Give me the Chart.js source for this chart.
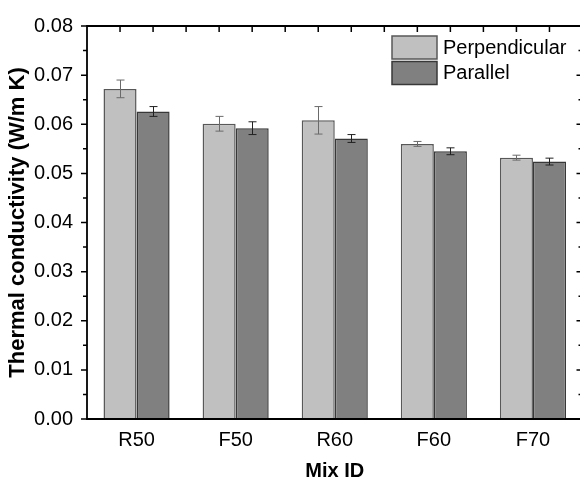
<!DOCTYPE html>
<html>
<head>
<meta charset="utf-8">
<script src="https://cdn.jsdelivr.net/npm/chart.js@4/dist/chart.umd.min.js"></script>
<style>
  html, body { margin: 0; padding: 0; background: #fff; overflow: hidden; }
  #wrap { width: 580px; height: 483px; overflow: hidden; }
</style>
</head>
<body>
<div id="wrap"><canvas id="chart" width="600" height="483"></canvas></div>
<script>
const categories = ['R50', 'F50', 'R60', 'F60', 'F70'];
const perpendicular = [0.0672, 0.0601, 0.0608, 0.0560, 0.0532];
const perpendicularErr = [0.0018, 0.0015, 0.0028, 0.0005, 0.0005];
const parallel = [0.0626, 0.0592, 0.0571, 0.0545, 0.0524];
const parallelErr = [0.0010, 0.0013, 0.0008, 0.0007, 0.0007];
const yTicks = [0, 0.01, 0.02, 0.03, 0.04, 0.05, 0.06, 0.07, 0.08];

const FONT = "'Liberation Sans', Arial, sans-serif";

// error bars on top of each bar
const errorBars = {
    id: 'errorBars',
    afterDatasetsDraw(chart) {
        const ctx = chart.ctx;
        const y = chart.scales.y;
        chart.data.datasets.forEach((ds, i) => {
            const meta = chart.getDatasetMeta(i);
            ctx.save();
            ctx.strokeStyle = ds.errColor;
            ctx.lineWidth = 1;
            meta.data.forEach((bar, j) => {
                const v = ds.data[j], e = ds.errors[j];
                const top = y.getPixelForValue(v + e);
                const bot = y.getPixelForValue(v - e);
                const x = Math.round(bar.x) + 0.5;
                ctx.beginPath();
                ctx.moveTo(x, top); ctx.lineTo(x, bot);
                ctx.moveTo(x - 4, top); ctx.lineTo(x + 4, top);
                ctx.moveTo(x - 4, bot); ctx.lineTo(x + 4, bot);
                ctx.stroke();
            });
            ctx.restore();
        });
    }
};

// box frame with origin-style ticks
const frame = {
    id: 'frame',
    afterDraw(chart) {
        const ctx = chart.ctx;
        const { left, right, top, bottom } = chart.chartArea;
        const y = chart.scales.y;
        ctx.save();
        ctx.strokeStyle = '#000';
        ctx.lineWidth = 1.8;
        ctx.beginPath();
        ctx.rect(left, top, right - left, bottom - top);
        ctx.stroke();
        ctx.lineWidth = 1.5;
        ctx.beginPath();
        for (let k = 0; k < yTicks.length * 2 - 1; k++) {
            const v = k * 0.005;
            const py = y.getPixelForValue(v);
            const len = k % 2 === 0 ? 6 : 4;
            ctx.moveTo(left - len, py); ctx.lineTo(left, py);
            ctx.moveTo(right, py); ctx.lineTo(right - len, py);
        }
        const step = (right - left) / (categories.length * 3);
        for (let k = 1; k < categories.length * 3; k++) {
            const px = left + k * step;
            ctx.moveTo(px, top); ctx.lineTo(px, top + 6);
        }
        ctx.stroke();
        ctx.restore();
    }
};

// legend inside the plot, upper right
const boxLegend = {
    id: 'boxLegend',
    afterDraw(chart) {
        const ctx = chart.ctx;
        ctx.save();
        ctx.font = '20px ' + FONT;
        ctx.textBaseline = 'middle';
        ctx.fillStyle = '#000';
        chart.data.datasets.forEach((ds, i) => {
            const by = 36 + i * 25.5;
            ctx.fillStyle = ds.backgroundColor;
            ctx.fillRect(392, by, 45, 23);
            ctx.strokeStyle = ds.borderColor;
            ctx.lineWidth = 1.5;
            ctx.strokeRect(392, by, 45, 23);
            ctx.fillStyle = '#000';
            ctx.fillText(ds.label, 443, by + 12);
        });
        ctx.restore();
    }
};

new Chart(document.getElementById('chart'), {
    type: 'bar',
    data: {
        labels: categories,
        datasets: [
            {
                label: 'Perpendicular',
                data: perpendicular,
                errors: perpendicularErr,
                backgroundColor: '#c0c0c0',
                borderColor: '#585858',
                errColor: '#6a6a6a',
                borderWidth: 1.5,
                borderSkipped: 'bottom'
            },
            {
                label: 'Parallel',
                data: parallel,
                errors: parallelErr,
                backgroundColor: '#808080',
                borderColor: '#383838',
                errColor: '#202020',
                borderWidth: 1.5,
                borderSkipped: 'bottom'
            }
        ]
    },
    options: {
        responsive: false,
        devicePixelRatio: 1,
        animation: false,
        categoryPercentage: 0.667,
        barPercentage: 1,
        layout: { padding: { left: 0, right: 17.5, top: 18.5, bottom: 0 } },
        plugins: {
            legend: { display: false },
            tooltip: { enabled: false }
        },
        scales: {
            x: {
                grid: { display: false, drawTicks: false },
                border: { display: false },
                ticks: { color: '#000', padding: 9, font: { family: FONT, size: 20 } },
                title: {
                    display: true,
                    text: 'Mix ID',
                    color: '#000',
                    padding: { top: 0, bottom: 0 },
                    font: { family: FONT, size: 20, weight: 'bold' }
                },
                afterFit(s) { s.height = 64; }
            },
            y: {
                min: 0,
                max: 0.08,
                grid: { display: false, drawTicks: false },
                border: { display: false },
                ticks: {
                    stepSize: 0.01,
                    color: '#000',
                    padding: 14,
                    font: { family: FONT, size: 20 },
                    callback: v => v.toFixed(2)
                },
                title: {
                    display: true,
                    text: 'Thermal conductivity (W/m K)',
                    color: '#000',
                    padding: { top: 5, bottom: 0 },
                    font: { family: FONT, size: 22, weight: 'bold' }
                },
                afterFit(s) { s.width = 87; }
            }
        }
    },
    plugins: [errorBars, frame, boxLegend]
});
</script>
</body>
</html>
